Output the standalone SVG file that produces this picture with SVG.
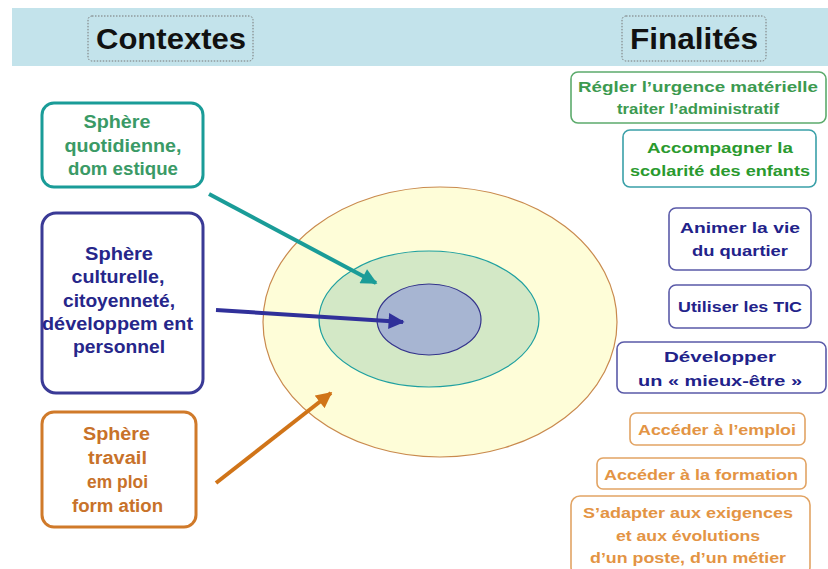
<svg xmlns="http://www.w3.org/2000/svg" width="828" height="569" viewBox="0 0 828 569">
<defs>
<style>
text{font-family:"Liberation Sans",Arial,sans-serif;font-weight:bold;text-anchor:middle}
.hd{font-size:29px;fill:#111}
.hbox{fill:none;stroke:#777;stroke-width:1;stroke-dasharray:1.5 1.5}
.lb{fill:#fff;stroke-width:3}
.l{font-size:18px}
.r{font-size:15.5px}
.rb{fill:#fff;stroke-width:1.6}
</style>
<marker id="mt" viewBox="0 0 10 10" refX="9" refY="5" markerWidth="4.2" markerHeight="4" orient="auto" markerUnits="strokeWidth"><path d="M0,0L10,5L0,10z" fill="#1a9c98"/></marker>
<marker id="mb" viewBox="0 0 10 10" refX="9" refY="5" markerWidth="4.2" markerHeight="4" orient="auto" markerUnits="strokeWidth"><path d="M0,0L10,5L0,10z" fill="#30309a"/></marker>
<marker id="mo" viewBox="0 0 10 10" refX="9" refY="5" markerWidth="4.2" markerHeight="4" orient="auto" markerUnits="strokeWidth"><path d="M0,0L10,5L0,10z" fill="#d07418"/></marker>
</defs>
<rect width="828" height="569" fill="#fff"/>
<rect x="12" y="8" width="816" height="58" fill="#c3e3eb"/>
<g id="hdr-contextes"><rect class="hbox" x="88" y="16" width="165" height="45" rx="4"/><text class="hd" x="171" y="49" textLength="150" lengthAdjust="spacingAndGlyphs">Contextes</text></g>
<g id="hdr-finalites"><rect class="hbox" x="622" y="16" width="144" height="45" rx="4"/><text class="hd" x="694" y="49" textLength="128" lengthAdjust="spacingAndGlyphs">Finalités</text></g>

<g id="spheres">
<ellipse cx="440" cy="322" rx="177" ry="135" fill="#fefdd8" stroke="#c98a4e" stroke-width="1.2"/>
<ellipse cx="429" cy="319" rx="110" ry="68" fill="#d3e8c6" stroke="#1fa0a0" stroke-width="1.2"/>
<ellipse cx="429" cy="319.5" rx="52" ry="35.5" fill="#a7b5d2" stroke="#34348c" stroke-width="1.2"/>
</g>

<g id="ctx-quotidienne"><rect class="lb" x="42" y="103" width="161" height="84" rx="12" stroke="#1a9c98"/>
<g class="l" fill="#3a9a66"><text x="117" y="128" textLength="67" lengthAdjust="spacingAndGlyphs">Sphère</text><text x="123" y="152" textLength="117" lengthAdjust="spacingAndGlyphs">quotidienne,</text><text x="123" y="175" textLength="110" lengthAdjust="spacingAndGlyphs">dom estique</text></g></g>
<g id="ctx-culturelle"><rect class="lb" x="42" y="213" width="161" height="180" rx="14" stroke="#3a3a96"/>
<g class="l" fill="#26268a"><text x="119" y="260" textLength="68" lengthAdjust="spacingAndGlyphs">Sphère</text><text x="118" y="283" textLength="93" lengthAdjust="spacingAndGlyphs">culturelle,</text><text x="119" y="307" textLength="112" lengthAdjust="spacingAndGlyphs">citoyenneté,</text><text x="117.5" y="330" textLength="151" lengthAdjust="spacingAndGlyphs">développem ent</text><text x="119" y="353" textLength="92" lengthAdjust="spacingAndGlyphs">personnel</text></g></g>
<g id="ctx-travail"><rect class="lb" x="42" y="412" width="154" height="115" rx="12" stroke="#d07a2a"/>
<g class="l" fill="#c8722a"><text x="116.5" y="440" textLength="67" lengthAdjust="spacingAndGlyphs">Sphère</text><text x="117.5" y="464" textLength="59" lengthAdjust="spacingAndGlyphs">travail</text><text x="117.5" y="488" textLength="61" lengthAdjust="spacingAndGlyphs">em ploi</text><text x="117.5" y="512" textLength="91" lengthAdjust="spacingAndGlyphs">form ation</text></g></g>

<g id="connectors" fill="none" stroke-width="4">
<line x1="209" y1="194" x2="376" y2="283" stroke="#1a9c98" marker-end="url(#mt)"/>
<line x1="216" y1="310" x2="403" y2="322" stroke="#30309a" marker-end="url(#mb)"/>
<line x1="216" y1="483" x2="331" y2="393" stroke="#d07418" marker-end="url(#mo)"/>
</g>

<g id="fin-urgence"><rect class="rb" x="571" y="72" width="255" height="51" rx="7" stroke="#5cab6c"/>
<g class="r" fill="#3c9a50"><text x="698" y="92" textLength="240" lengthAdjust="spacingAndGlyphs">Régler l’urgence matérielle</text><text x="698" y="114" textLength="162" lengthAdjust="spacingAndGlyphs">traiter l’administratif</text></g></g>
<g id="fin-scolarite"><rect class="rb" x="623" y="130" width="193" height="57" rx="7" stroke="#3aa0a8"/>
<g class="r" fill="#2a9a2e"><text x="720" y="153" textLength="146" lengthAdjust="spacingAndGlyphs">Accompagner la</text><text x="720" y="176" textLength="180" lengthAdjust="spacingAndGlyphs">scolarité des enfants</text></g></g>
<g id="fin-quartier"><rect class="rb" x="669" y="208" width="142" height="62" rx="7" stroke="#5a5aa8"/>
<g class="r" fill="#22228a"><text x="740" y="233" textLength="120" lengthAdjust="spacingAndGlyphs">Animer la vie</text><text x="740" y="256" textLength="96" lengthAdjust="spacingAndGlyphs">du quartier</text></g></g>
<g id="fin-tic"><rect class="rb" x="669" y="285" width="142" height="43" rx="7" stroke="#5a5aa8"/>
<text class="r" fill="#22228a" x="740" y="312" textLength="124" lengthAdjust="spacingAndGlyphs">Utiliser les TIC</text></g>
<g id="fin-mieux-etre"><rect class="rb" x="617" y="342" width="209" height="51" rx="7" stroke="#5a5aa8"/>
<g class="r" fill="#22228a"><text x="720" y="362" textLength="112" lengthAdjust="spacingAndGlyphs">Développer</text><text x="720" y="386" textLength="164" lengthAdjust="spacingAndGlyphs">un « mieux-être »</text></g></g>
<g id="fin-emploi"><rect class="rb" x="630" y="413" width="175" height="32" rx="6" stroke="#e2a464"/>
<text class="r" fill="#e39444" x="717" y="435" textLength="158" lengthAdjust="spacingAndGlyphs">Accéder à l’emploi</text></g>
<g id="fin-formation"><rect class="rb" x="597" y="458" width="209" height="31" rx="6" stroke="#e2a464"/>
<text class="r" fill="#e39444" x="701" y="480" textLength="194" lengthAdjust="spacingAndGlyphs">Accéder à la formation</text></g>
<g id="fin-adapter"><rect class="rb" x="571" y="496" width="239" height="80" rx="9" stroke="#e2a464"/>
<g class="r" fill="#e39444"><text x="688" y="518" textLength="210" lengthAdjust="spacingAndGlyphs">S’adapter aux exigences</text><text x="688" y="541" textLength="144" lengthAdjust="spacingAndGlyphs">et aux évolutions</text><text x="688" y="563" textLength="196" lengthAdjust="spacingAndGlyphs">d’un poste, d’un métier</text></g></g>
</svg>
